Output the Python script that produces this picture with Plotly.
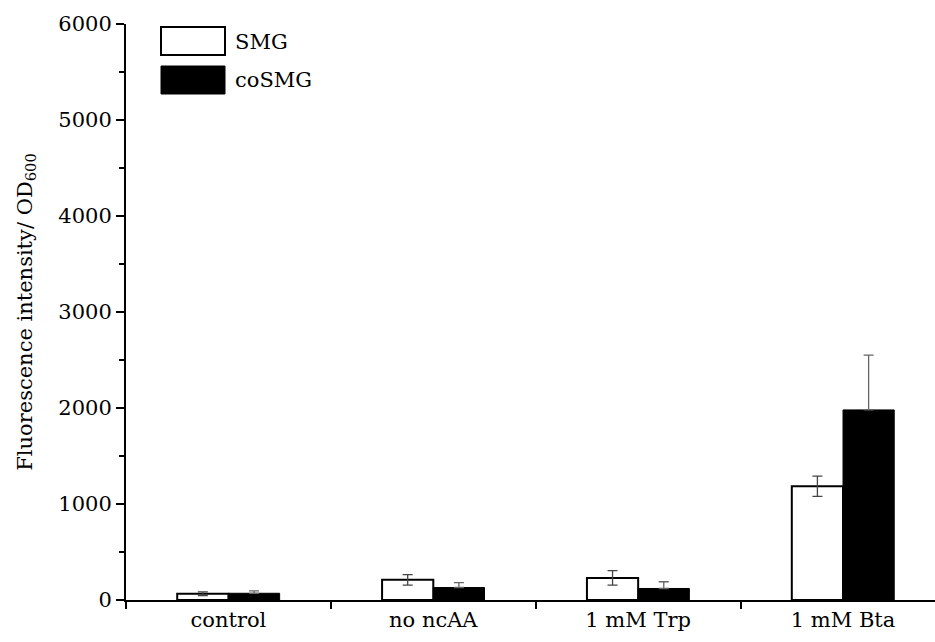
import plotly.graph_objects as go

categories = ["control", "no ncAA", "1 mM Trp", "1 mM Bta"]
smg_values = [65, 210, 230, 1185]
smg_errors = [20, 55, 75, 105]
cosmg_values = [70, 130, 120, 1980]
cosmg_errors = [25, 50, 70, 570]
series_names = ["SMG", "coSMG"]

W, H = 935, 642
L, R, T, B = 126, 0, 24, 42
PW, PH = W - L - R, H - T - B

def px(x):
    return (x - L) / PW

def py(y):
    return (H - B - y) / PH

FONT = "DejaVu Serif"
FS = 21

fig = go.Figure()
fig.add_trace(go.Bar(
    x=categories, y=smg_values, name=series_names[0],
    marker=dict(color="white", line=dict(color="black", width=2)),
    error_y=dict(type="data", array=smg_errors, color="#444", thickness=1.3, width=5),
    showlegend=False,
))
fig.add_trace(go.Bar(
    x=categories, y=cosmg_values, name=series_names[1],
    marker=dict(color="black", line=dict(color="black", width=1)),
    error_y=dict(type="data", array=cosmg_errors, arrayminus=[0] * len(cosmg_errors),
                 symmetric=False, color="#666", thickness=1.3, width=5),
    showlegend=False,
))

# legend drawn manually to mimic large swatches
shapes = [
    dict(type="rect", xref="paper", yref="paper", x0=px(161), x1=px(225), y0=py(55), y1=py(27),
         fillcolor="white", line=dict(color="black", width=2)),
    dict(type="rect", xref="paper", yref="paper", x0=px(161), x1=px(225), y0=py(94), y1=py(66),
         fillcolor="black", line=dict(color="black", width=1)),
]
annotations = [
    dict(xref="paper", yref="paper", x=px(233), y=py(42), text=series_names[0], showarrow=False,
         xanchor="left", yanchor="middle", font=dict(family=FONT, size=FS, color="black")),
    dict(xref="paper", yref="paper", x=px(233), y=py(80), text=series_names[1], showarrow=False,
         xanchor="left", yanchor="middle", font=dict(family=FONT, size=FS, color="black")),
]

fig.update_layout(
    width=W, height=H,
    margin=dict(l=L, r=R, t=T, b=B, pad=0),
    paper_bgcolor="white", plot_bgcolor="white",
    barmode="group", bargap=0.5, bargroupgap=0,
    font=dict(family=FONT, size=FS, color="black"),
    shapes=shapes, annotations=annotations,
)
fig.update_xaxes(
    range=[-0.5, 3.449], showline=True, linecolor="black", linewidth=2,
    ticks="outside", tickson="boundaries", ticklen=7, tickwidth=2, tickcolor="black",
    showgrid=False, zeroline=False, tickfont=dict(family=FONT, size=FS),
)
fig.update_yaxes(
    range=[0, 6000], dtick=1000, showline=True, linecolor="black", linewidth=2,
    ticks="outside", ticklen=8, tickwidth=2, tickcolor="black",
    minor=dict(dtick=500, ticks="outside", ticklen=5, tickwidth=2, tickcolor="black"),
    showgrid=False, zeroline=False, tickfont=dict(family=FONT, size=FS),
    title=dict(text="Fluorescence intensity/ OD<sub>600</sub>", font=dict(family=FONT, size=FS), standoff=20),
)

fig.write_html("out.html")
